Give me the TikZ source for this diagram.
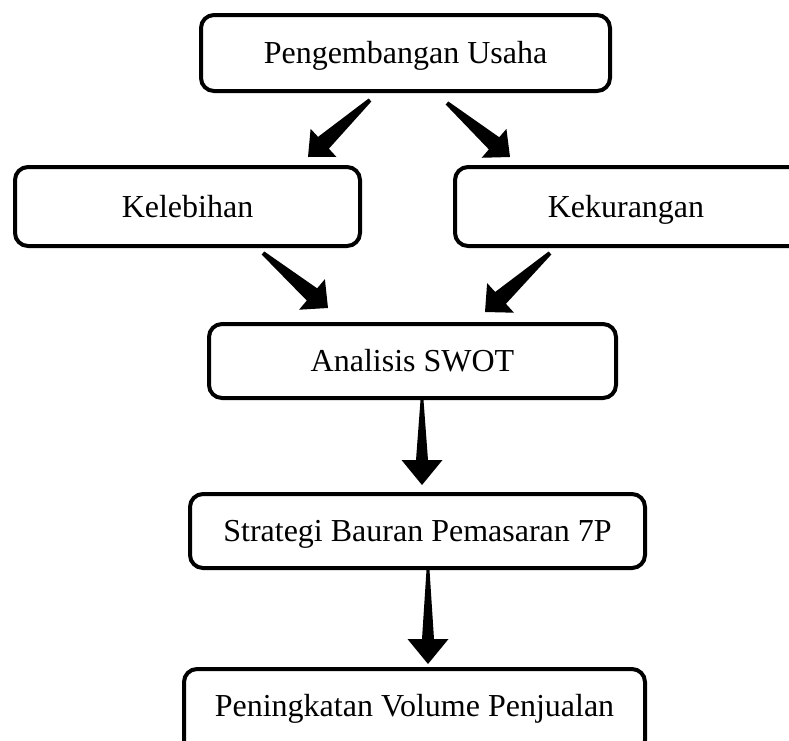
\documentclass[tikz,border=0pt]{standalone}
\usepackage{fontspec}
\setmainfont{Liberation Serif}
\usetikzlibrary{calc}
\tikzset{
  box/.style={draw=black, line width=4pt, rounded corners=13pt, fill=white,
    inner sep=0pt, text height=21pt, text depth=0pt,
    font=\fontsize{32}{38}\selectfont},
  blk/.style={fill=black}
}
% tail, tip, tail half width, shaft half width, head half width, head length
\newcommand\blockarrow[6]{%
  \fill[blk] ($(#1)!#3!90:(#2)$)
    -- ($(#2)!#6!(#1)!#4!-90:(#1)$)
    -- ($(#2)!#6!(#1)!#5!-90:(#1)$)
    -- (#2)
    -- ($(#2)!#6!(#1)!#5!90:(#1)$)
    -- ($(#2)!#6!(#1)!#4!90:(#1)$)
    -- ($(#1)!#3!-90:(#2)$) -- cycle;}
\begin{document}
\begin{tikzpicture}[x=1pt,y=-1pt]
\useasboundingbox (0,0) rectangle (789,740);
\clip (0,0) rectangle (789,740);
\node[box, minimum width=409pt, minimum height=76pt] (n1) at (405.5,53) {Pengembangan Usaha};
\node[box, minimum width=345pt, minimum height=79pt] (n2) at (187.5,206.5) {Kelebihan};
\node[box, minimum width=356pt, minimum height=79pt] (n3) at (633,206.5) {\hspace*{-14pt}Kekurangan};
\node[box, minimum width=407pt, minimum height=74pt] (n4) at (412.5,361) {Analisis SWOT};
\node[box, minimum width=455pt, minimum height=74pt] (n5) at (417.5,531) {Strategi Bauran Pemasaran 7P};
\node[box, minimum width=461pt, minimum height=84pt, text depth=10pt] (n6) at (414.5,711) {Peningkatan Volume Penjualan};
% arrow end points
\coordinate (a1t) at (370,100);
\coordinate (a1h) at (308,157);
\coordinate (a2t) at (447,103);
\coordinate (a2h) at (510,157);
\coordinate (a3t) at (263,253);
\coordinate (a3h) at (328,308);
\coordinate (a4t) at (550,253);
\coordinate (a4h) at (485,312);
\coordinate (a5t) at (n4.south -| 422,0);
\coordinate (a5h) at (422,485);
\coordinate (a6t) at (n5.south -| 428,0);
\coordinate (a6h) at (428,664);
\blockarrow{a1t}{a1h}{2pt}{8pt}{19pt}{21pt}
\blockarrow{a2t}{a2h}{2pt}{8pt}{19pt}{21pt}
\blockarrow{a3t}{a3h}{2pt}{8pt}{20pt}{21pt}
\blockarrow{a4t}{a4h}{2pt}{8pt}{20pt}{21pt}
\blockarrow{a5t}{a5h}{1.5pt}{6pt}{20.5pt}{25pt}
\blockarrow{a6t}{a6h}{1.5pt}{6pt}{20.5pt}{25pt}
\end{tikzpicture}
\end{document}
